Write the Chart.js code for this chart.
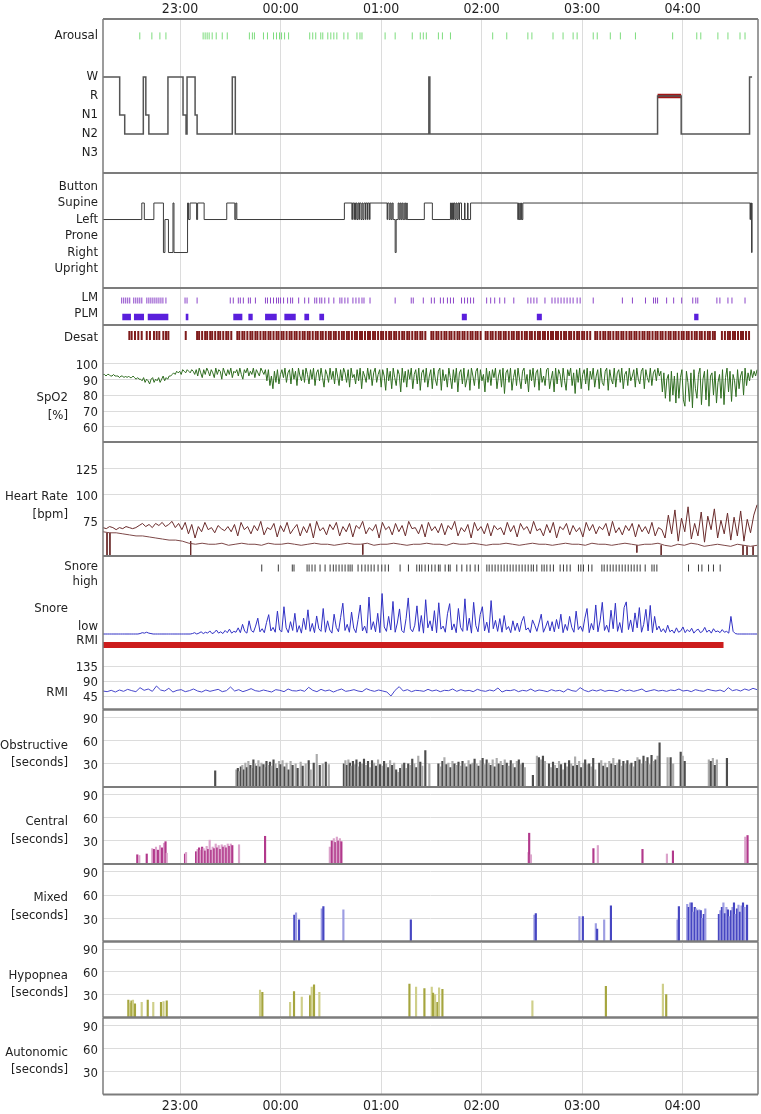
<!DOCTYPE html>
<html>
<head>
<meta charset="utf-8">
<script src="https://cdn.jsdelivr.net/npm/chart.js@4.4.1/dist/chart.umd.min.js"></script>
<style>
    body { margin: 0; background: #fff; width: 761px; height: 1114px; overflow: hidden; position: relative;
           font-family: 'DejaVu Sans Condensed', 'DejaVu Sans', sans-serif; }
    canvas { position: absolute; left: 0; }
    .title { position: absolute; right: 693px; text-align: right; font-size: 13px; line-height: 17.5px; color: #222; white-space: nowrap; }
</style>
</head>
<body>
<script>
// x values are hours after 22:00
const startHour = 0.234;
const endHour = 6.749;
const hourTicks = [1, 2, 3, 4, 5, 6];
const hourLabels = ['23:00', '00:00', '01:00', '02:00', '03:00', '04:00'];

const stageLevels = ['N3', 'N2', 'N1', 'R', 'W'];
const hypnoTimes = [0.234, 0.40, 0.45, 0.635, 0.66, 0.69, 0.88, 1.03, 1.06, 1.07, 1.15, 1.17, 1.52, 1.55, 3.475, 3.485, 5.75, 5.985, 6.665, 6.69];
const hypnoStages = ['W', 'N1', 'N2', 'W', 'N1', 'N2', 'W', 'N1', 'N2', 'W', 'N1', 'N2', 'W', 'N2', 'W', 'N2', 'R', 'N2', 'W', 'W'];

const arousalTimes = [0.60, 0.72, 0.80, 0.86, 1.23, 1.25, 1.27, 1.29, 1.32, 1.36, 1.42, 1.47, 1.69, 1.72, 1.74, 1.83, 1.87, 1.93, 1.96, 1.99,
    2.01, 2.04, 2.08, 2.29, 2.32, 2.35, 2.40, 2.42, 2.47, 2.50, 2.53, 2.56, 2.63, 2.67, 2.76, 2.79, 2.81, 3.04, 3.14, 3.31, 3.39, 3.42, 3.45,
    3.57, 3.61, 3.69, 4.11, 4.25, 4.46, 4.50, 4.71, 4.81, 4.91, 4.95, 5.11, 5.15, 5.28, 5.38, 5.53, 5.90, 6.14, 6.18, 6.35, 6.45, 6.57, 6.62];

const positionLevels = ['Upright', 'Right', 'Prone', 'Left', 'Supine', 'Button'];
const positionTimes = [0.234, 0.62, 0.645, 0.74, 0.835, 0.85, 0.885, 0.93, 0.94, 1.075, 1.085, 1.10, 1.165, 1.175, 1.24, 1.465, 1.545, 1.555, 1.565,
    2.635, 2.71, 2.715, 2.73, 2.735, 2.745, 2.75, 2.76, 2.77, 2.78, 2.785, 2.80, 2.81, 2.82, 2.83, 2.845, 2.85, 2.865, 2.87, 2.885, 2.89,
    3.06, 3.065, 3.08, 3.09, 3.10, 3.11, 3.12, 3.14, 3.15, 3.17, 3.18, 3.19, 3.20, 3.21, 3.22, 3.235, 3.245, 3.255, 3.26,
    3.43, 3.51, 3.69, 3.70, 3.71, 3.72, 3.725, 3.735, 3.745, 3.755, 3.765, 3.775, 3.78, 3.80, 3.83, 3.835, 3.86, 3.865, 3.89,
    4.36, 4.365, 4.37, 4.38, 4.385, 4.395, 4.40, 4.41, 6.67, 6.675, 6.685, 6.69];
const positionStates = ['Left', 'Supine', 'Left', 'Supine', 'Right', 'Left', 'Right', 'Supine', 'Right', 'Supine', 'Left', 'Supine', 'Left', 'Supine', 'Left', 'Supine', 'Left', 'Supine', 'Left',
    'Supine', 'Left', 'Supine', 'Left', 'Supine', 'Left', 'Supine', 'Left', 'Supine', 'Left', 'Supine', 'Left', 'Supine', 'Left', 'Supine', 'Left', 'Supine', 'Left', 'Supine', 'Left', 'Supine',
    'Left', 'Supine', 'Left', 'Supine', 'Left', 'Supine', 'Left', 'Right', 'Left', 'Supine', 'Left', 'Supine', 'Left', 'Supine', 'Left', 'Supine', 'Left', 'Supine', 'Left',
    'Supine', 'Left', 'Supine', 'Left', 'Supine', 'Left', 'Supine', 'Left', 'Supine', 'Left', 'Supine', 'Left', 'Supine', 'Left', 'Supine', 'Left', 'Supine', 'Left', 'Supine', 'Left',
    'Supine', 'Left', 'Supine', 'Left', 'Supine', 'Left', 'Supine', 'Left', 'Supine', 'Right', 'Supine', 'Supine'];

const lmTimes = [0.42, 0.44, 0.46, 0.48, 0.50, 0.54, 0.56, 0.58, 0.60, 0.62, 0.67, 0.69, 0.71, 0.73, 0.75, 0.77, 0.79, 0.81, 0.83, 0.86,
    1.05, 1.07, 1.17, 1.50, 1.53, 1.58, 1.60, 1.63, 1.68, 1.70, 1.75, 1.85, 1.87, 1.90, 1.93, 1.96, 1.98, 2.00, 2.03, 2.07, 2.10, 2.12,
    2.18, 2.24, 2.28, 2.34, 2.36, 2.39, 2.41, 2.44, 2.48, 2.53, 2.59, 2.61, 2.64, 2.67, 2.72, 2.75, 2.78, 2.81, 2.83, 2.89, 3.14, 3.30,
    3.32, 3.42, 3.50, 3.53, 3.59, 3.62, 3.66, 3.69, 3.72, 3.80, 3.83, 3.86, 3.89, 3.92, 4.05, 4.09, 4.13, 4.18, 4.23, 4.32, 4.46, 4.49,
    4.52, 4.55, 4.63, 4.70, 4.73, 4.76, 4.79, 4.82, 4.85, 4.88, 4.91, 4.95, 4.98, 5.11, 5.40, 5.50, 5.63, 5.71, 5.73, 5.75, 5.84, 5.91,
    5.99, 6.10, 6.13, 6.15, 6.34, 6.37, 6.45, 6.49, 6.62];
const plmStart = [0.426, 0.542, 0.679, 1.057, 1.530, 1.680, 1.846, 2.038, 2.237, 2.386, 3.803, 4.549, 6.114];
const plmEnd = [0.512, 0.642, 0.884, 1.083, 1.620, 1.723, 1.962, 2.151, 2.284, 2.433, 3.853, 4.599, 6.157];

const desatTimes = [0.496, 0.519, 0.552, 0.585, 0.619, 0.669, 0.701, 0.741, 0.768, 0.794, 0.834, 0.861, 0.884, 1.057,
    1.17, 1.19, 1.22, 1.25, 1.27, 1.30, 1.32, 1.35, 1.38, 1.40, 1.43, 1.46, 1.48, 1.51,
    1.57, 1.59, 1.62, 1.64, 1.67, 1.70, 1.72, 1.75, 1.77, 1.80, 1.83, 1.85, 1.88, 1.90, 1.93, 1.96, 1.98, 2.01, 2.03, 2.06, 2.09, 2.11,
    2.14, 2.16, 2.19, 2.22, 2.24, 2.27, 2.29, 2.32, 2.35, 2.37, 2.40, 2.42, 2.45, 2.48, 2.50, 2.53, 2.55, 2.58, 2.61, 2.63, 2.66, 2.68,
    2.71, 2.74, 2.76, 2.79, 2.81, 2.84, 2.87, 2.89, 2.92, 2.94, 2.97, 3.00, 3.02, 3.05, 3.08, 3.10, 3.13, 3.15, 3.18, 3.21, 3.23, 3.26,
    3.28, 3.31, 3.34, 3.36, 3.39, 3.41, 3.44, 3.50, 3.52, 3.55, 3.57, 3.60, 3.63, 3.65, 3.68, 3.70, 3.73, 3.76, 3.78, 3.81, 3.83, 3.86,
    3.89, 3.91, 3.94, 3.96, 3.99, 4.04, 4.06, 4.09, 4.11, 4.14, 4.17, 4.19, 4.22, 4.24, 4.27, 4.30, 4.32, 4.35, 4.37, 4.40, 4.43, 4.45,
    4.48, 4.50, 4.53, 4.56, 4.58, 4.61, 4.63, 4.66, 4.69, 4.71, 4.74, 4.76, 4.79, 4.82, 4.84, 4.87, 4.89, 4.92, 4.95, 4.97, 5.00, 5.02,
    5.05, 5.08, 5.13, 5.15, 5.18, 5.21, 5.23, 5.26, 5.28, 5.31, 5.34, 5.36, 5.39, 5.41, 5.44, 5.47, 5.49, 5.52, 5.54, 5.57, 5.60, 5.62,
    5.65, 5.67, 5.70, 5.73, 5.75, 5.78, 5.80, 5.83, 5.86, 5.88, 5.91, 5.93, 5.96, 5.99, 6.01, 6.04, 6.06, 6.09, 6.12, 6.14, 6.17, 6.19,
    6.22, 6.25, 6.27, 6.30, 6.32, 6.39, 6.42, 6.45, 6.47, 6.50, 6.52, 6.55, 6.58, 6.60, 6.63, 6.66];

// evenly sampled traces between startHour and traceEnd
const traceEnd = 6.74;
const spo2 = [93, 93, 92, 93, 93, 92, 92, 93, 92, 92, 92, 91, 92, 92, 91, 92, 91, 92, 91, 91, 92, 91, 90, 91, 90,
    90, 89, 91, 88, 90, 89, 87, 90, 91, 88, 90, 89, 91, 88, 90, 92, 89, 91, 90, 92,
    92, 93, 94, 93, 95, 94, 95, 93, 96, 95, 94, 96, 95, 94, 96,
    95, 93, 96, 92, 97, 94, 91, 96, 93, 97, 95, 92, 96, 94, 91, 97, 93, 96, 95, 90, 97, 94, 92, 96, 93, 97, 91, 95, 94, 96,
    92, 97, 93, 90, 96, 94, 97, 92, 95, 93, 97, 91, 96, 94, 92, 97, 95, 93, 96,
    89, 96, 86, 92, 84, 95, 88, 96, 87, 93, 96,
    91, 97, 88, 94, 96, 87, 97, 90, 95, 86, 97, 92, 89, 96, 88, 97, 93, 87, 96, 90, 97, 86, 94, 96, 89, 97, 91, 85, 96, 93,
    88, 97, 90, 95, 87, 97, 92, 86, 96, 89, 97, 94, 88, 96, 85, 97, 91, 93, 87, 96, 89, 97, 84, 95, 92, 88, 97, 90, 96, 86,
    94, 97, 88, 93, 96,
    85, 96, 92, 83, 97, 89, 95, 84, 97, 91, 86, 96, 93, 82, 97, 88, 95, 85, 96, 90, 97, 84, 93, 96, 87, 97, 83, 94, 96, 88,
    97, 85, 92, 96, 84, 97, 90, 86, 95, 97, 83, 96, 89, 93, 85, 97, 91, 84, 96, 88, 97, 82, 94, 96, 87, 97, 85, 90, 96, 83,
    97, 92, 86, 95, 97, 84, 96, 89, 93, 82, 97, 88, 95, 86, 96, 91, 97, 84, 92, 96, 85, 97, 81, 94, 96, 88, 97, 83, 91, 96,
    86, 97, 90, 84, 95, 97, 87, 93, 82, 96, 89, 97, 85, 94, 96, 83, 97, 88, 92, 86, 96, 97, 84, 90, 95, 82, 97, 87, 96, 93,
    85, 97, 89, 83, 96, 92, 97, 86, 94, 81, 96, 88, 97, 84, 93, 96, 87, 97, 83, 95, 90, 97, 85, 92, 96, 84, 97, 88, 86, 95,
    97, 83, 96, 90, 87, 97, 85, 94, 96, 88, 97, 84, 93, 95, 86, 97, 89, 92, 96, 85, 97, 90, 87, 95, 97, 84, 96, 91, 88, 97,
    86, 94, 96, 89, 97, 92, 95,
    82, 94, 78, 90, 93, 76, 95, 80, 92, 75, 94, 78, 91, 96, 77,
    73, 95, 88, 76, 94, 72, 96, 84, 78, 93, 97, 74, 90, 95, 77, 96, 73, 92, 94, 80, 95, 75, 88, 93, 78, 96, 74, 91, 97, 82,
    95, 76, 93, 89, 79, 96, 84, 92, 95, 80, 97, 86, 94, 89, 96, 91, 95, 92, 96];

const heartRateHigh = [68, 67, 69, 68, 66, 68, 67, 69, 68, 67,
    68, 70, 72, 69, 71, 68, 72, 70, 73, 69, 71, 74, 68, 72, 66, 73,
    62, 71, 58, 69, 64, 73, 66, 68, 63, 70, 67, 65, 69, 64, 71, 60, 73, 66, 69, 62, 70, 65, 74, 61, 68, 66, 72, 59, 70, 64, 73, 62, 67, 71, 60,
    69, 63, 72, 58, 74, 65, 68, 61, 71, 66, 73, 60, 69, 64, 72, 59, 70, 67, 74, 62, 68, 65, 71, 58, 73, 66, 69, 61, 72, 64,
    70, 60, 74, 67, 68, 62, 71, 59, 73, 65, 69, 63, 72, 61, 70, 66, 74, 60, 68, 64, 71, 58, 73, 65, 69, 62, 72, 60, 70, 66,
    68, 61, 73, 64, 70, 59, 72, 66, 69, 62, 74, 65, 67, 60, 71, 63, 73, 58, 69, 66, 72, 61, 70, 64, 68,
    59, 73, 65, 71, 62, 69, 66, 72, 60, 74, 63, 68, 61, 70, 65, 72, 59, 71, 64, 69, 62, 73, 60, 68, 66,
    58, 80, 62, 85, 55, 77, 64, 88, 57, 72, 60, 83, 54, 79, 66, 86, 58, 75, 62, 82, 56, 78, 60, 84, 55, 76, 63, 80, 90];
const heartRateLow = [64, 63, 63, 62, 61, 60, 60, 59, 58, 57, 56, 56, 55,
    53, 52, 53, 52, 52, 53, 51, 52, 53, 52, 52, 51, 53, 52, 52, 53, 52, 51, 52, 53,
    52, 52, 51, 52, 53, 52, 52, 53, 51, 52, 52, 53, 52, 51, 52, 52, 53, 52, 52, 51,
    53, 52, 52, 53, 52, 51, 52, 52, 53, 52, 51, 52, 53, 52, 52, 51, 52, 53, 52, 52,
    51, 53, 52, 52, 51, 52, 53, 52,
    51, 52, 52, 53, 51, 50, 52, 51, 53, 52, 50, 51, 52, 51, 50, 52, 51, 50, 51];
// [hour, from bpm, to bpm]
const heartRateDrops = [[0.274, 63, 41], [0.303, 63, 41], [1.106, 55, 41], [2.818, 52, 42], [5.544, 51, 44], [5.786, 51, 41],
    [6.60, 51, 40], [6.64, 50, 40], [6.70, 50, 40]];

const snoreHighTimes = [1.813, 1.978, 2.117, 2.134, 2.264, 2.284, 2.313, 2.343, 2.393, 2.443, 2.493, 2.525, 2.552, 2.582, 2.612, 2.642,
    2.672, 2.692, 2.712, 2.771, 2.808, 2.841, 2.871, 2.901, 2.931, 2.970, 3.007, 3.040, 3.073, 3.189, 3.272, 3.355, 3.381, 3.405, 3.438,
    3.471, 3.504, 3.537, 3.570, 3.587, 3.637, 3.670, 3.687, 3.753, 3.803, 3.853, 3.886, 3.935, 3.968, 4.052, 4.075, 4.104, 4.134, 4.164,
    4.194, 4.224, 4.254, 4.284, 4.313, 4.343, 4.373, 4.403, 4.433, 4.463, 4.493, 4.515, 4.549, 4.599, 4.622, 4.649, 4.682, 4.714, 4.781,
    4.814, 4.848, 4.881, 4.963, 4.987, 5.013, 5.063, 5.097, 5.196, 5.219, 5.249, 5.279, 5.308, 5.338, 5.368, 5.398, 5.428, 5.458, 5.488,
    5.517, 5.547, 5.577, 5.627, 5.694, 5.716, 5.743, 6.058, 6.157, 6.191, 6.257, 6.306, 6.373];
const snore = [0, 0, 0, 0, 0, 0, 0, 0, 0, 0, 0, 0, 0, 0, 0, 0, 0, 1, 3, 2, 4, 2, 1, 0, 0, 0, 0, 0, 0, 0, 0, 0, 0, 0, 0, 0, 0, 0, 0, 0, 0,
    1, 3, 0, 2, 5, 1, 4, 2, 7, 1, 3, 9, 2, 5, 1, 8, 3, 11, 2, 6, 4,
    14, 3, 22, 6, 2, 30, 8, 4, 18, 36, 5, 12, 3, 26, 44, 7, 15, 4, 52, 9,
    5, 62, 14, 3, 28, 8, 47, 4, 19, 2, 36, 10, 55, 6, 24, 3, 41, 12, 6, 58, 4, 30, 9, 2, 45,
    15, 5, 38, 70, 8, 22, 4, 50, 13, 3, 33, 66, 7, 18, 2, 84, 10, 28, 5, 47, 3, 92, 16, 6, 40,
    9, 74, 4, 25, 57, 8, 3, 35, 82, 12, 5, 20, 64, 6, 42, 2, 78, 14, 30, 7, 53, 3, 71, 11, 18,
    4, 46, 69, 9, 23, 3, 58, 15, 6, 80, 8, 36, 2, 72, 19, 5, 44, 62, 7, 27, 3, 76, 12, 31, 6,
    35, 4, 42, 10, 17, 3, 30, 8, 25, 5, 28, 40, 9, 14, 3, 32, 20, 6, 25, 45, 4, 16, 30, 7, 28,
    5, 33, 12, 45, 3, 22, 8, 40, 15, 4, 52, 10, 18, 6, 36, 58, 3, 24, 9, 66, 5, 30, 72, 8, 20,
    4, 54, 12, 70, 6, 26, 3, 60, 73, 10, 32, 5, 48, 14, 60, 4, 22, 56, 7, 65, 3, 40, 9, 18, 5,
    12, 3, 20, 5, 9, 2, 14, 4, 7, 16, 3, 10, 5, 13, 2, 8, 11, 3, 6, 15, 4, 9, 2, 12, 5, 7, 3, 10, 4, 6, 2,
    40, 6, 1, 0, 0, 0, 0, 0, 0, 0, 0, 0, 0];
const rmiBarStart = [0.234];
const rmiBarEnd = [6.406];

const rmi = [60, 58, 62, 57, 63, 59, 65, 61, 58, 70, 62, 66, 59, 75, 63, 60, 68, 57, 62, 64,
    58, 61, 66, 60, 57, 63, 59, 62, 65, 58, 61, 72, 60, 64, 58, 62, 67, 61, 59, 63,
    60, 57, 64, 62, 58, 66, 61, 60, 63, 59, 71, 62, 58, 65, 60, 63, 57, 62, 66, 59,
    61, 64, 60, 58, 67, 62, 59, 63, 60, 57, 45, 62, 73, 60, 64, 58, 62, 61, 59, 65,
    60, 63, 58, 62, 61, 66, 59, 64, 60, 62, 58, 65, 61, 59, 63, 60, 69, 57, 62, 61,
    64, 58, 62, 60, 66, 59, 63, 61, 58, 64, 60, 62, 57, 66, 61, 59, 70, 62, 58, 63,
    60, 64, 59, 62, 61, 58, 65, 60, 63, 59, 62, 66, 58, 61, 64, 60, 62, 59, 63, 61,
    66, 60, 62, 58, 64, 61, 59, 65, 62, 60, 63, 58, 70, 61, 64, 60, 66, 62, 68, 64];

// [hour, seconds]
const obstructiveEvents = [[1.35, 21],
    [1.56, 22], [1.575, 24], [1.59, 20], [1.605, 26], [1.62, 28], [1.635, 22], [1.65, 31], [1.665, 25], [1.68, 33], [1.70, 28], [1.715, 24],
    [1.73, 35], [1.745, 30], [1.76, 27], [1.78, 34], [1.795, 26], [1.81, 31], [1.83, 29], [1.845, 25], [1.86, 33], [1.88, 28], [1.895, 32],
    [1.91, 27], [1.93, 35], [1.95, 30], [1.965, 24], [1.985, 33], [2.00, 29], [2.02, 34], [2.04, 26], [2.06, 31], [2.08, 22], [2.10, 33],
    [2.12, 28], [2.15, 30], [2.17, 24], [2.20, 32], [2.22, 27], [2.25, 30], [2.28, 34], [2.30, 22], [2.33, 31], [2.36, 42], [2.39, 28],
    [2.42, 30], [2.45, 32], [2.48, 29],
    [2.63, 30], [2.645, 34], [2.66, 28], [2.675, 35], [2.69, 31], [2.705, 27], [2.72, 33], [2.74, 29], [2.755, 35], [2.77, 26], [2.79, 32],
    [2.81, 30], [2.83, 36], [2.85, 28], [2.87, 33], [2.89, 25], [2.91, 34], [2.93, 31], [2.95, 27], [2.97, 35], [2.99, 29],
    [3.01, 27], [3.03, 33], [3.05, 30], [3.07, 25], [3.09, 34], [3.11, 28], [3.13, 31], [3.15, 22], [3.17, 19], [3.19, 24], [3.21, 29],
    [3.23, 31], [3.25, 24], [3.27, 30], [3.29, 28], [3.31, 36], [3.33, 30], [3.35, 25], [3.37, 40], [3.39, 32], [3.41, 27], [3.44, 47], [3.48, 30],
    [3.57, 30], [3.59, 26], [3.61, 33], [3.63, 38], [3.65, 29], [3.67, 31], [3.69, 25], [3.71, 33], [3.73, 30], [3.75, 28], [3.77, 32],
    [3.79, 27], [3.81, 33], [3.83, 30], [3.85, 26], [3.87, 34], [3.89, 29], [3.91, 31], [3.93, 36], [3.95, 30], [3.97, 27], [3.99, 34],
    [4.01, 37], [4.03, 29], [4.05, 35], [4.07, 31], [4.09, 28], [4.11, 35], [4.13, 26], [4.15, 37], [4.17, 30], [4.19, 33], [4.21, 28],
    [4.23, 35], [4.25, 31], [4.27, 27], [4.29, 34], [4.31, 30], [4.33, 25], [4.35, 33], [4.37, 35], [4.39, 29], [4.41, 31], [4.43, 25],
    [4.51, 15], [4.55, 40], [4.57, 38], [4.59, 35], [4.61, 40], [4.63, 33],
    [4.67, 30], [4.69, 25], [4.71, 32], [4.73, 28], [4.75, 24], [4.77, 33], [4.79, 29], [4.81, 22], [4.83, 31], [4.85, 26], [4.87, 34],
    [4.89, 30], [4.91, 27], [4.93, 39], [4.95, 28], [4.97, 33], [4.99, 25], [5.01, 31], [5.03, 35], [5.05, 29], [5.07, 30], [5.09, 26],
    [5.11, 37], [5.13, 22],
    [5.17, 31], [5.19, 34], [5.21, 27], [5.23, 31], [5.25, 25], [5.27, 33], [5.29, 30], [5.31, 37], [5.33, 28], [5.35, 31], [5.37, 35],
    [5.39, 27], [5.41, 33], [5.43, 30], [5.45, 34], [5.47, 29], [5.49, 31], [5.51, 26], [5.53, 33], [5.55, 38], [5.57, 35], [5.59, 30],
    [5.61, 40], [5.63, 33], [5.65, 38], [5.67, 29], [5.69, 41], [5.71, 33], [5.73, 35], [5.75, 40], [5.77, 57],
    [5.85, 38], [5.88, 38], [5.905, 30], [5.98, 45], [6.00, 40], [6.02, 33],
    [6.26, 35], [6.28, 33], [6.30, 37], [6.32, 28], [6.34, 35], [6.44, 37]];

const centralEvents = [[0.575, 12], [0.595, 11], [0.669, 13], [0.724, 20], [0.741, 19], [0.761, 22], [0.781, 18], [0.801, 24], [0.821, 21],
    [0.841, 27], [0.856, 29], [0.868, 14], [1.05, 13], [1.06, 15],
    [1.16, 16], [1.175, 19], [1.19, 21], [1.205, 18], [1.22, 22], [1.235, 20], [1.25, 17], [1.265, 23], [1.28, 19], [1.295, 31], [1.31, 18],
    [1.325, 22], [1.34, 20], [1.355, 26], [1.37, 21], [1.385, 24], [1.40, 19], [1.415, 25], [1.43, 22], [1.445, 24], [1.46, 21], [1.475, 26],
    [1.49, 23], [1.505, 26], [1.52, 24], [1.587, 25], [1.846, 36],
    [2.49, 22], [2.51, 30], [2.53, 33], [2.545, 28], [2.56, 35], [2.575, 30], [2.59, 33], [2.605, 29],
    [4.466, 15], [4.473, 40], [4.49, 12], [5.112, 20], [5.156, 24], [5.60, 19], [5.843, 13], [5.903, 17], [6.622, 35], [6.645, 37]];

const mixedEvents = [[2.137, 34], [2.154, 37], [2.184, 28], [2.41, 42], [2.426, 45], [2.625, 41], [3.296, 28], [4.525, 34], [4.539, 36],
    [4.973, 32], [5.007, 32], [5.136, 23], [5.149, 16], [5.219, 28], [5.286, 46], [5.948, 28], [5.962, 45],
    [6.045, 48], [6.06, 44], [6.075, 50], [6.09, 50], [6.105, 38], [6.12, 44], [6.135, 42], [6.15, 40], [6.165, 41], [6.18, 40], [6.195, 30],
    [6.21, 35], [6.225, 42],
    [6.36, 35], [6.375, 40], [6.39, 44], [6.405, 50], [6.42, 36], [6.435, 44], [6.45, 41], [6.465, 32], [6.48, 40], [6.495, 44], [6.51, 50],
    [6.525, 35], [6.54, 42], [6.555, 47], [6.57, 38], [6.585, 46], [6.60, 50], [6.615, 44], [6.64, 47]];

const hypopneaEvents = [[0.486, 23], [0.502, 19], [0.517, 22], [0.532, 23], [0.552, 18], [0.619, 20], [0.679, 23], [0.734, 20], [0.811, 20],
    [0.836, 21], [0.868, 22], [1.796, 36], [1.819, 33], [2.095, 20], [2.134, 34], [2.211, 27], [2.294, 29], [2.31, 40], [2.333, 43], [2.386, 33],
    [3.282, 44], [3.348, 40], [3.431, 38], [3.504, 40], [3.517, 32], [3.537, 30], [3.56, 20], [3.577, 39], [3.61, 37],
    [4.505, 22], [5.236, 41], [5.803, 44], [5.836, 30]];

const autonomicEvents = [];

const FONT_FAMILY = "'DejaVu Sans Condensed', 'DejaVu Sans', sans-serif";
const PAGE_H = 1114;

function evenSeries(values, t0, t1)
{
    const step = (t1 - t0) / (values.length - 1);
    return values.map((v, i) => ({ x: t0 + i * step, y: v }));
}

function stepSeries(times, states, levels)
{
    return times.map((t, i) => ({ x: t, y: levels.indexOf(states[i]) }));
}

function spanSeries(starts, ends, row)
{
    let out = [];
    starts.forEach((s, i) =>
    {
        out.push({ x: s, y: row }, { x: ends[i], y: row }, { x: ends[i], y: null });
    });
    return out;
}

function lineSet(data, color, width, extra)
{
    return Object.assign({ type: 'line', data: data, borderColor: color, borderWidth: width, pointRadius: 0,
        tension: 0, spanGaps: false, fill: false }, extra || {});
}

function tickSet(times, row, color, half, width)
{
    return { type: 'scatter', data: times.map(t => ({ x: t, y: row })), pointStyle: 'line', pointRotation: 90,
        pointRadius: half, pointBorderColor: color, pointBackgroundColor: color, pointBorderWidth: width };
}

function barSet(list, dark, light)
{
    return { type: 'bar', data: list.map(e => ({ x: e[0], y: e[1] })), backgroundColor: list.map((e, i) => i % 2 ? light : dark),
        barThickness: 1.5, grouped: false, borderWidth: 0 };
}

const framePlugin =
{
    id: 'frame',
    afterDraw(chart, args, opts)
    {
        const ctx = chart.ctx;
        const a = chart.chartArea;
        ctx.save();
        ctx.strokeStyle = '#7c7c7c';
        ctx.lineWidth = 2;
        ctx.beginPath();
        if (opts.top) { ctx.moveTo(a.left, a.top); ctx.lineTo(a.right, a.top); }
        if (opts.bottom) { ctx.moveTo(a.left, a.bottom); ctx.lineTo(a.right, a.bottom); }
        ctx.stroke();
        ctx.lineWidth = 1.5;
        ctx.beginPath();
        ctx.moveTo(a.left, a.top); ctx.lineTo(a.left, a.bottom);
        ctx.moveTo(a.right, a.top); ctx.lineTo(a.right, a.bottom);
        ctx.stroke();
        ctx.restore();
    }
};

// REM periods are drawn as a thick bar over the hypnogram
let remStart = [], remEnd = [];
hypnoStages.forEach((s, i) =>
{
    if (s === 'R' && i + 1 < hypnoTimes.length) { remStart.push(hypnoTimes[i]); remEnd.push(hypnoTimes[i + 1]); }
});

let hrDropData = [];
heartRateDrops.forEach(d => { hrDropData.push({ x: d[0], y: d[1] }, { x: d[0], y: d[2] }, { x: d[0], y: null }); });

const eventTicks = [90, 60, 30];

const panels =
[
    {
        top: 19, bottom: 173, axis: 'top', yMin: -1.05, yMax: 7.05, yTicks: [6.16, 4, 3, 2, 1, 0],
        label: v => v > 5 ? 'Arousal' : stageLevels[v], grid: false, offset: 0, frame: { top: true, bottom: true },
        datasets:
        [
            tickSet(arousalTimes, 6.16, '#7ddc7d', 3.5, 1),
            lineSet(stepSeries(hypnoTimes, hypnoStages, stageLevels), '#555555', 1.5, { stepped: 'before' }),
            lineSet(spanSeries(remStart, remEnd, 3), '#a31616', 4.5, { borderCapStyle: 'butt' })
        ]
    },
    {
        top: 173, bottom: 288, yMin: -1.15, yMax: 5.82, yTicks: [5, 4, 3, 2, 1, 0],
        label: v => positionLevels[v], grid: false, offset: 0, frame: { top: true, bottom: true },
        datasets: [ lineSet(stepSeries(positionTimes, positionStates, positionLevels), '#3c3c3c', 1, { stepped: 'before' }) ]
    },
    {
        top: 288, bottom: 325, yMin: -0.485, yMax: 1.76, yTicks: [1, 0],
        label: v => v === 1 ? 'LM' : 'PLM', grid: false, offset: -3, frame: { top: true, bottom: true },
        datasets:
        [
            tickSet(lmTimes, 1, '#8c45c9', 3, 1),
            lineSet(spanSeries(plmStart, plmEnd, 0), '#5a1fdc', 6.5, { borderCapStyle: 'butt' })
        ]
    },
    {
        top: 325, bottom: 442, yMin: 50.5, yMax: 124.1, yTicks: [117.3, 100, 90, 80, 70, 60],
        label: v => v > 110 ? 'Desat' : String(v), grid: v => v <= 100, offset: 2, frame: { top: true, bottom: true },
        datasets:
        [
            tickSet(desatTimes, 117.5, '#7e1b1b', 4.5, 2),
            lineSet(evenSeries(spo2, startHour, traceEnd), '#2f6d20', 1)
        ]
    },
    {
        top: 442, bottom: 556, yMin: 40.7, yMax: 150.3, yTicks: [125, 100, 75],
        label: v => String(v), grid: v => true, offset: 2, frame: { top: true, bottom: true },
        datasets:
        [
            lineSet(evenSeries(heartRateLow, startHour, traceEnd), '#7d4848', 1),
            lineSet(evenSeries(heartRateHigh, startHour, traceEnd), '#6a2b2b', 1),
            lineSet(hrDropData, '#6a2b2b', 1)
        ]
    },
    {
        top: 556, bottom: 652, yMin: -40.9, yMax: 177.3, yTicks: [136, 16, -14],
        label: v => v > 100 ? ['Snore', 'high'] : (v > 0 ? 'low' : 'RMI'), grid: false, offset: 0, frame: { top: true, bottom: false },
        datasets:
        [
            tickSet(snoreHighTimes, 150, '#3a3a3a', 3.5, 1),
            lineSet(evenSeries(snore, startHour, traceEnd), '#3030c4', 1),
            lineSet(spanSeries(rmiBarStart, rmiBarEnd, -25), '#cc1d1d', 6, { borderCapStyle: 'butt' })
        ]
    },
    {
        top: 652, bottom: 709.5, yMin: 4.5, yMax: 177, yTicks: [135, 90, 45],
        label: v => String(v), grid: v => true, offset: 2, frame: { top: false, bottom: true },
        datasets: [ lineSet(evenSeries(rmi, startHour, traceEnd), '#4747cc', 1) ]
    },
    {
        top: 709.5, bottom: 787, yMin: 0, yMax: 100, yTicks: eventTicks, label: v => String(v), grid: v => true, offset: 2,
        frame: { top: true, bottom: true }, datasets: [ barSet(obstructiveEvents, '#4d4d4d', '#ababab') ]
    },
    {
        top: 787, bottom: 864, yMin: 0, yMax: 100, yTicks: eventTicks, label: v => String(v), grid: v => true, offset: 2,
        frame: { top: true, bottom: true }, datasets: [ barSet(centralEvents, '#b2398c', '#dba3cb') ]
    },
    {
        top: 864, bottom: 941.5, yMin: 0, yMax: 100, yTicks: eventTicks, label: v => String(v), grid: v => true, offset: 2,
        frame: { top: true, bottom: true }, datasets: [ barSet(mixedEvents, '#4646c2', '#9d9de2') ]
    },
    {
        top: 941.5, bottom: 1017.5, yMin: 0, yMax: 100, yTicks: eventTicks, label: v => String(v), grid: v => true, offset: 2,
        frame: { top: true, bottom: true }, datasets: [ barSet(hypopneaEvents, '#a5a53e', '#cfcf8a') ]
    },
    {
        top: 1017.5, bottom: 1094.5, axis: 'bottom', yMin: 0, yMax: 100, yTicks: eventTicks, label: v => String(v), grid: v => true, offset: 2,
        frame: { top: true, bottom: true }, datasets: [ barSet(autonomicEvents, '#555555', '#aaaaaa') ]
    }
];

const titles =
[
    { lines: ['SpO2', '[%]'], y: 405.5 },
    { lines: ['Heart Rate', '[bpm]'], y: 504.5 },
    { lines: ['Snore'], y: 608 },
    { lines: ['RMI'], y: 692 },
    { lines: ['Obstructive', '[seconds]'], y: 753 },
    { lines: ['Central', '[seconds]'], y: 829.5 },
    { lines: ['Mixed', '[seconds]'], y: 905.5 },
    { lines: ['Hypopnea', '[seconds]'], y: 983 },
    { lines: ['Autonomic', '[seconds]'], y: 1060 }
];

function makePanel(p)
{
    const canvasTop = p.axis === 'top' ? 0 : Math.floor(p.top - 10);
    const canvasBottom = p.axis === 'bottom' ? PAGE_H : Math.ceil(p.bottom + 10);
    const padTop = p.axis === 'top' ? 0 : p.top - canvasTop;
    const padBottom = p.axis === 'bottom' ? 0 : canvasBottom - p.bottom;
    const axisHeight = p.axis === 'top' ? p.top : (p.axis === 'bottom' ? PAGE_H - p.bottom : 0);

    const canvas = document.createElement('canvas');
    canvas.width = 761;
    canvas.height = canvasBottom - canvasTop;
    canvas.style.top = canvasTop + 'px';
    document.body.appendChild(canvas);

    const config =
    {
        type: 'scatter',
        data: { datasets: p.datasets },
        options:
        {
            responsive: false,
            animation: false,
            devicePixelRatio: 1,
            events: [],
            layout: { autoPadding: false, padding: { left: 0, right: 3, top: padTop, bottom: padBottom } },
            plugins:
            {
                legend: { display: false },
                tooltip: { enabled: false },
                frame: p.frame
            },
            scales:
            {
                x:
                {
                    type: 'linear',
                    position: p.axis || 'bottom',
                    min: startHour,
                    max: endHour,
                    bounds: 'data',
                    offset: false,
                    afterBuildTicks: ax => { ax.ticks = hourTicks.map(v => ({ value: v })); },
                    afterFit: ax =>
                    {
                        ax.height = axisHeight;
                        ax.paddingLeft = 0;
                        ax.paddingRight = 0;
                    },
                    grid: { color: '#dcdcdc', lineWidth: 1, drawTicks: false, offset: false },
                    border: { display: false },
                    ticks:
                    {
                        display: !!p.axis,
                        autoSkip: false,
                        maxRotation: 0,
                        padding: p.axis === 'top' ? 1 : 3,
                        color: '#1e1e1e',
                        font: { family: FONT_FAMILY, size: 14 },
                        callback: v => hourLabels[hourTicks.indexOf(v)]
                    }
                },
                y:
                {
                    type: 'linear',
                    min: p.yMin,
                    max: p.yMax,
                    bounds: 'data',
                    afterBuildTicks: ax => { ax.ticks = p.yTicks.map(v => ({ value: v })); },
                    afterFit: ax =>
                    {
                        ax.width = 103;
                        ax.paddingTop = 0;
                        ax.paddingBottom = 0;
                    },
                    grid:
                    {
                        drawTicks: false,
                        lineWidth: 1,
                        color: c => (p.grid && c.tick && p.grid(c.tick.value)) ? '#dcdcdc' : 'rgba(0,0,0,0)'
                    },
                    border: { display: false },
                    ticks:
                    {
                        autoSkip: false,
                        padding: 5,
                        labelOffset: p.offset,
                        color: '#1e1e1e',
                        font: { family: FONT_FAMILY, size: 13, lineHeight: 1.2 },
                        callback: v => p.label(v)
                    }
                }
            }
        },
        plugins: [framePlugin]
    };

    return new Chart(canvas.getContext('2d'), config);
}

panels.forEach(makePanel);

titles.forEach(t =>
{
    const div = document.createElement('div');
    div.className = 'title';
    div.innerHTML = t.lines.join('<br>');
    div.style.top = (t.y - t.lines.length * 17.5 / 2) + 'px';
    document.body.appendChild(div);
});
</script>
</body>
</html>
